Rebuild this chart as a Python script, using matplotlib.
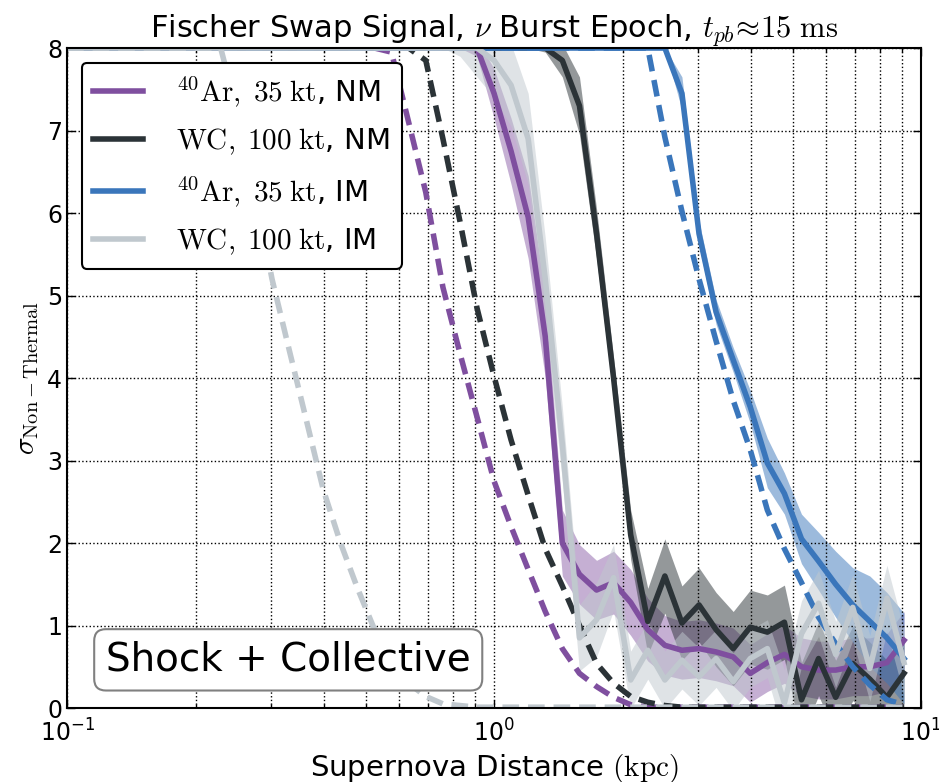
import matplotlib
matplotlib.use("Agg")
import matplotlib.pyplot as plt
import numpy as np

plt.rcParams['mathtext.fontset'] = 'cm'
plt.rcParams['font.family'] = ['DejaVu Sans']

# supernova distances (kpc)
dist = [0.100, 0.110, 0.120, 0.132, 0.145, 0.158, 0.174, 0.191, 0.209, 0.229,
        0.251, 0.275, 0.302, 0.331, 0.363, 0.398, 0.437, 0.479, 0.525, 0.575,
        0.631, 0.692, 0.759, 0.832, 0.912, 1.000, 1.096, 1.202, 1.318, 1.445,
        1.585, 1.738, 1.905, 2.089, 2.291, 2.512, 2.754, 3.020, 3.311, 3.631,
        3.981, 4.365, 4.786, 5.248, 5.754, 6.310, 6.918, 7.586, 8.318, 9.120]

# simulated significance (solid) and its spread
ar_nm = [8.0] * 25 + [7.45, 6.75, 5.95, 4.5, 2.0, 1.62, 1.43, 1.52, 1.28, 0.95,
                      0.76, 0.70, 0.72, 0.68, 0.62, 0.42, 0.55, 0.65, 0.50, 0.46,
                      0.46, 0.50, 0.50, 0.55, 0.82]
ar_nm_err = [0.0] * 24 + [0.1, 0.3, 0.4, 0.5, 0.5, 0.4, 0.36, 0.36, 0.38, 0.4,
                          0.38, 0.36, 0.35, 0.35, 0.35, 0.35, 0.35, 0.35, 0.35, 0.35,
                          0.35, 0.35, 0.35, 0.35, 0.35, 0.35]
wc_nm = [8.0] * 29 + [7.85, 7.3, 5.75, 4.0, 2.1, 1.05, 1.6, 1.03, 1.25, 0.95,
                      0.72, 0.98, 0.92, 1.04, 0.10, 0.60, 0.13, 0.54, 0.35, 0.13,
                      0.42]
wc_nm_err = [0.0] * 28 + [0.05, 0.2, 0.35, 0.3, 0.25, 0.3, 0.4, 0.45, 0.45, 0.45,
                          0.45, 0.45, 0.45, 0.45, 0.45, 0.45, 0.45, 0.45, 0.45, 0.45,
                          0.45, 0.45]
ar_im = [8.0] * 36 + [7.45, 5.75, 4.8, 4.22, 3.65, 2.97, 2.6, 2.05, 1.78, 1.5,
                      1.25, 1.05, 0.85, 0.6]
ar_im_err = [0.0] * 36 + [0.2, 0.15, 0.15, 0.15, 0.2, 0.3, 0.25, 0.3, 0.35, 0.4,
                          0.45, 0.55, 0.55, 0.55]
wc_im = [8.0] * 25 + [7.85, 7.55, 6.9, 5.2, 3.2, 0.85, 1.07, 1.58, 0.34, 0.70,
                      0.34, 0.58, 0.38, 0.60, 0.32, 0.60, 0.72, 0.06, 0.90, 1.27,
                      0.65, 1.22, 0.48, 1.33, 0.55]
wc_im_err = [0.0] * 23 + [0.1, 0.35, 0.45, 0.5, 0.55, 0.5, 0.45, 0.4, 0.45, 0.4,
                          0.35, 0.35, 0.35, 0.35, 0.35, 0.35, 0.35, 0.35, 0.35, 0.4,
                          0.4, 0.4, 0.4, 0.4, 0.4, 0.4, 0.4]

# expected significance (dashed)
ar_nm_exp = [8.0] * 19 + [7.95, 7.1, 6.25, 5.1, 4.3, 3.53, 2.75, 2.2, 1.68, 1.17,
                          0.72, 0.42, 0.26, 0.13, 0.04] + [0.01] * 16
wc_nm_exp = [8.0] * 21 + [7.85, 6.9, 5.9, 4.85, 4.02, 3.25, 2.58, 1.93, 1.48, 1.0,
                          0.54, 0.3, 0.14, 0.07, 0.03] + [0.01] * 14
ar_im_exp = [8.0] * 35 + [6.92, 6.02, 5.2, 4.45, 3.73, 3.13, 2.4, 1.93, 1.52, 1.1,
                          0.78, 0.5, 0.28, 0.1, 0.04]
wc_im_exp = [8.0] * 10 + [7.2, 6.3, 5.2, 4.35, 3.5, 2.65, 2.0, 1.45, 0.95, 0.58,
                          0.3, 0.14, 0.05, 0.03] + [0.01] * 26

labels = [r'$^{40}\mathrm{Ar,}\;35\;\mathrm{kt}$, NM',
          r'$\mathrm{WC,}\;100\;\mathrm{kt}$, NM',
          r'$^{40}\mathrm{Ar,}\;35\;\mathrm{kt}$, IM',
          r'$\mathrm{WC,}\;100\;\mathrm{kt}$, IM']
colors = ['#7f4f9f', '#2b3337', '#3a76bb', '#c0c8ce']
band_alpha = [0.45, 0.5, 0.5, 0.5]

sims = [ar_nm, wc_nm, ar_im, wc_im]
errs = [ar_nm_err, wc_nm_err, ar_im_err, wc_im_err]
exps = [ar_nm_exp, wc_nm_exp, ar_im_exp, wc_im_exp]

fig = plt.figure(figsize=(9.39, 7.82), dpi=100)
ax = fig.add_axes([0.0714, 0.0946, 0.9095, 0.844])

x = np.array(dist)
for sim, err, exp, c, a, lab in zip(sims, errs, exps, colors, band_alpha, labels):
    y = np.array(sim)
    e = np.array(err)
    ax.fill_between(x, y - e, y + e, color=c, alpha=a, lw=0)
    ax.plot(x, y, color=c, lw=4, label=lab)
    ax.plot(x, exp, color=c, lw=4, dashes=(3, 1.6))

ax.set_xscale('log')
ax.set_xlim(0.1, 10)
ax.set_ylim(0, 8)

ax.grid(True, which='both', axis='x', color='k', ls=':', lw=1)
ax.grid(True, which='major', axis='y', color='k', ls=':', lw=1)

ax.set_xticks([0.1, 1, 10])
ax.set_xticklabels([r'$10^{-1}$', r'$10^{0}$', r'$10^{1}$'],
                   math_fontfamily='dejavusans', fontsize=17)
ax.xaxis.set_minor_formatter(matplotlib.ticker.NullFormatter())
ax.set_yticks(range(9))
ax.tick_params(axis='y', labelsize=17)
ax.tick_params(which='both', direction='in', top=True, right=True)
ax.tick_params(which='major', length=6, width=1)
ax.tick_params(which='minor', length=3, width=1)
ax.tick_params(axis='x', pad=8)
for s in ax.spines.values():
    s.set_linewidth(1.5)

ax.set_title(r'Fischer Swap Signal, $\nu$ Burst Epoch, $t_{pb}\!\approx\!15\ \mathrm{ms}$',
             fontsize=22, pad=6)
ax.set_xlabel(r'Supernova Distance $\mathrm{(kpc)}$', fontsize=21)
ax.set_ylabel(r'$\sigma_{\mathrm{Non-Thermal}}$', fontsize=21)

leg = ax.legend(loc='upper left', fontsize=21, handlelength=1.7, handletextpad=1.15,
                labelspacing=0.6, borderaxespad=0.5, fancybox=True, framealpha=1)
leg.get_frame().set_edgecolor('k')
leg.get_frame().set_linewidth(1.5)

ax.text(0.259, 0.073, 'Shock + Collective', transform=ax.transAxes,
        ha='center', va='center', fontsize=28,
        bbox=dict(boxstyle='round,pad=0.3', fc='white', ec='gray', lw=1.5))

fig.savefig('out.png', dpi=100)
